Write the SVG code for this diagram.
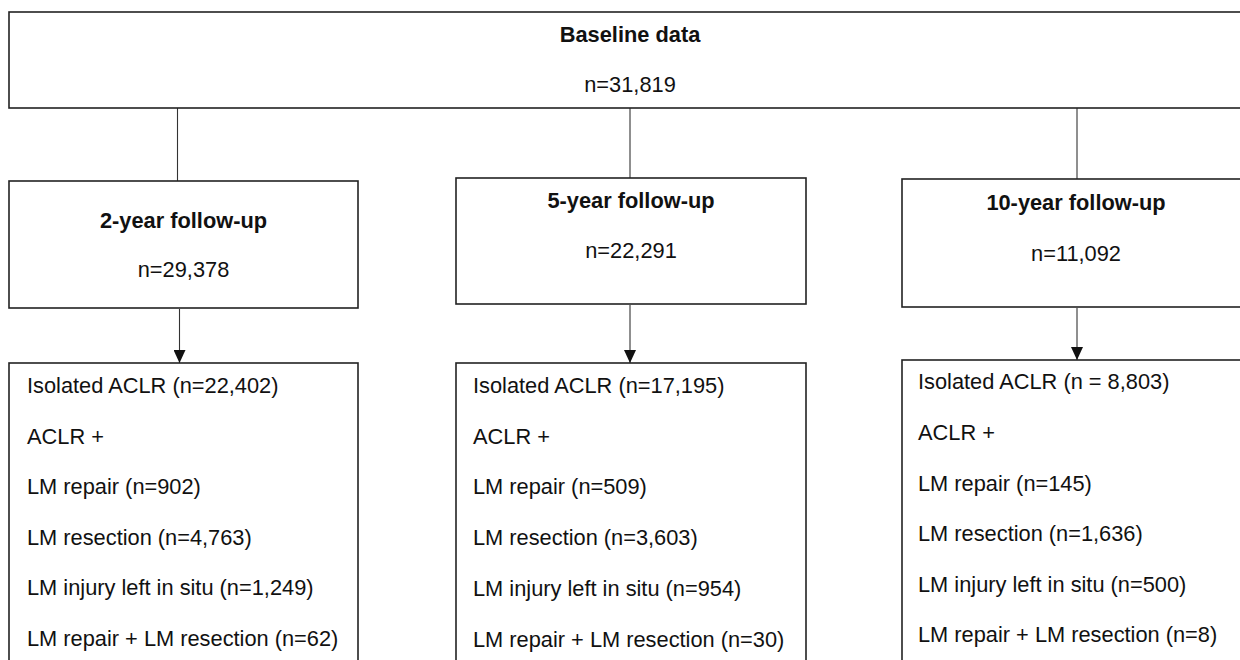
<svg xmlns="http://www.w3.org/2000/svg" width="1240" height="660" viewBox="0 0 1240 660">
<style>
.box{fill:#fff;stroke:#222;stroke-width:1.6}
.t{font-family:"Liberation Sans",Arial,sans-serif;font-size:21.8px;fill:#111}
.b{font-weight:bold;text-anchor:middle}
.c{text-anchor:middle}
.ln{stroke:#333;stroke-width:1.1;fill:none}
</style>
<defs>
<marker id="ah" markerUnits="userSpaceOnUse" viewBox="0 0 13 12" refX="13" refY="6" markerWidth="13" markerHeight="12" orient="auto">
<path d="M0,0 L13,6 L0,12 z" fill="#111"/>
</marker>
</defs>
<rect width="1240" height="660" fill="#fff"/>
<g id="connectors">
<line class="ln" x1="177.5" y1="108" x2="177.5" y2="181"/>
<line class="ln" x1="630" y1="108" x2="630" y2="178"/>
<line class="ln" x1="1077" y1="108" x2="1077" y2="179"/>
<line class="ln" x1="179.5" y1="309" x2="179.5" y2="363" marker-end="url(#ah)"/>
<line class="ln" x1="630" y1="305" x2="630" y2="363" marker-end="url(#ah)"/>
<line class="ln" x1="1077" y1="308" x2="1077" y2="360" marker-end="url(#ah)"/>
</g>
<g id="baseline">
<rect class="box" x="9" y="12" width="1242" height="96"/>
<text class="t b" x="630" y="42">Baseline data</text>
<text class="t c" x="630" y="92">n=31,819</text>
</g>
<g id="fu2">
<rect class="box" x="9" y="181" width="349" height="127"/>
<text class="t b" x="183.5" y="228">2-year follow-up</text>
<text class="t c" x="183.5" y="277">n=29,378</text>
</g>
<g id="fu5">
<rect class="box" x="456" y="178" width="350" height="126"/>
<text class="t b" x="631" y="208">5-year follow-up</text>
<text class="t c" x="631" y="258">n=22,291</text>
</g>
<g id="fu10">
<rect class="box" x="902" y="179" width="348" height="128"/>
<text class="t b" x="1076" y="210">10-year follow-up</text>
<text class="t c" x="1076" y="261">n=11,092</text>
</g>
<g id="res2">
<rect class="box" x="9" y="363" width="349" height="340"/>
<text class="t" x="27" y="393">Isolated ACLR (n=22,402)</text>
<text class="t" x="27" y="443.5">ACLR +</text>
<text class="t" x="27" y="494">LM repair (n=902)</text>
<text class="t" x="27" y="544.5">LM resection (n=4,763)</text>
<text class="t" x="27" y="595">LM injury left in situ (n=1,249)</text>
<text class="t" x="27" y="646">LM repair + LM resection (n=62)</text>
</g>
<g id="res5">
<rect class="box" x="456" y="363" width="350" height="340"/>
<text class="t" x="473" y="393">Isolated ACLR (n=17,195)</text>
<text class="t" x="473" y="443.5">ACLR +</text>
<text class="t" x="473" y="494">LM repair (n=509)</text>
<text class="t" x="473" y="544.5">LM resection (n=3,603)</text>
<text class="t" x="473" y="596">LM injury left in situ (n=954)</text>
<text class="t" x="473" y="646.5">LM repair + LM resection (n=30)</text>
</g>
<g id="res10">
<rect class="box" x="902" y="360" width="348" height="340"/>
<text class="t" x="918" y="389">Isolated ACLR (n = 8,803)</text>
<text class="t" x="918" y="439.5">ACLR +</text>
<text class="t" x="918" y="490.5">LM repair (n=145)</text>
<text class="t" x="918" y="540.5">LM resection (n=1,636)</text>
<text class="t" x="918" y="591.5">LM injury left in situ (n=500)</text>
<text class="t" x="918" y="641.5">LM repair + LM resection (n=8)</text>
</g>
</svg>
